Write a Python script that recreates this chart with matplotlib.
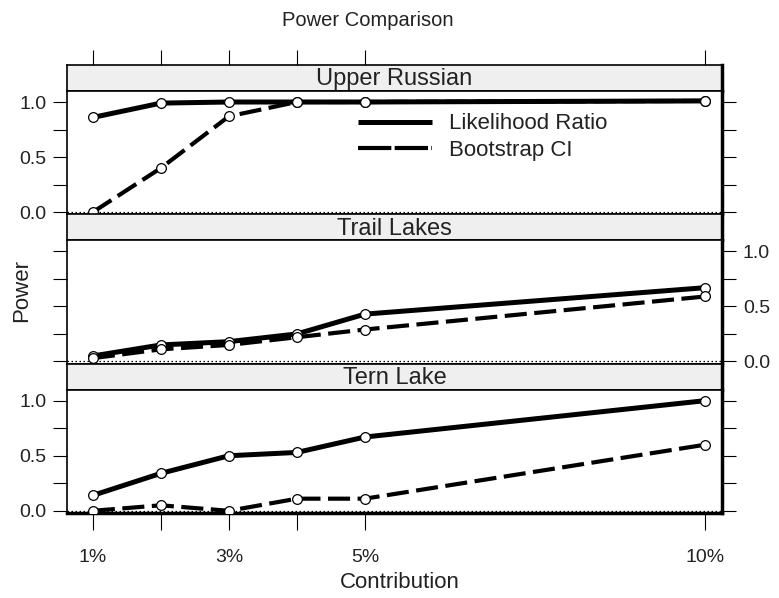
import numpy as np
import matplotlib
matplotlib.use('Agg')
import matplotlib.pyplot as plt
from matplotlib.lines import Line2D

plt.rcParams['font.family'] = ['Liberation Sans', 'DejaVu Sans']

contribution = [1, 2, 3, 4, 5, 10]
xtick_labels = ['1%', '', '3%', '', '5%', '10%']

sites = ['Upper Russian', 'Trail Lakes', 'Tern Lake']
likelihood = {
    'Upper Russian': [0.86, 0.99, 1.0, 1.0, 1.0, 1.01],
    'Trail Lakes': [0.05, 0.15, 0.18, 0.25, 0.43, 0.67],
    'Tern Lake': [0.14, 0.34, 0.50, 0.53, 0.67, 1.0],
}
bootstrap = {
    'Upper Russian': [0.0, 0.40, 0.87, 1.0, 1.0, 1.01],
    'Trail Lakes': [0.03, 0.11, 0.15, 0.22, 0.29, 0.59],
    'Tern Lake': [0.0, 0.05, 0.0, 0.11, 0.11, 0.60],
}

W, H = 779, 598
fig = plt.figure(figsize=(W / 100, H / 100), dpi=100)

left, right = 67, 722
top, bottom = 65, 513
unit = (bottom - top) / 3
strip_h = 26

def box(x0, y0, x1, y1):
    return [x0 / W, 1 - y1 / H, (x1 - x0) / W, (y1 - y0) / H]

xlim = (0.62, 10.25)
ylim = (-0.02, 1.1)
lr_lw, bs_lw = 3.6, 3.0
bs_dash = (0, (5.3, 1.8))

for i, site in enumerate(sites):
    y0 = top + i * unit
    st = fig.add_axes(box(left, y0, right, y0 + strip_h))
    st.set_facecolor('#efefef')
    st.set_xlim(xlim)
    st.set_yticks([])
    st.text(0.5, 0.45, site, transform=st.transAxes, ha='center', va='center',
            fontsize=17, color='#222222')
    for s in st.spines.values():
        s.set_linewidth(1.2)
    st.spines['right'].set_linewidth(2.5)
    if i == 0:
        st.set_xticks(contribution)
        st.tick_params(axis='x', top=True, bottom=False, labeltop=False, labelbottom=False,
                       length=11, width=0.8, direction='out')
    else:
        st.set_xticks([])

    ax = fig.add_axes(box(left, y0 + strip_h, right, y0 + unit))
    ax.set_xlim(xlim)
    ax.set_ylim(ylim)
    ax.axhline(0, color='black', lw=0.9, ls=(0, (1.2, 2)), zorder=1)
    ax.plot(contribution, likelihood[site], color='black', lw=lr_lw, solid_capstyle='butt', zorder=2)
    ax.plot(contribution, bootstrap[site], color='black', lw=bs_lw, ls=bs_dash, zorder=2)
    ax.plot(contribution, likelihood[site], 'o', ms=7, mfc='white', mec='black', mew=0.9, zorder=3)
    ax.plot(contribution, bootstrap[site], 'o', ms=7, mfc='white', mec='black', mew=0.9, zorder=3)

    ax.set_yticks([0, 0.25, 0.5, 0.75, 1.0])
    ax.set_yticklabels(['0.0', '', '0.5', '', '1.0'])
    lab_right = (i == 1)
    ax.tick_params(axis='y', left=True, right=True, labelleft=not lab_right, labelright=lab_right,
                   length=10, width=0.8, direction='out', labelsize=14, pad=5,
                   labelcolor='#222222')
    if i == 2:
        ax.set_xticks(contribution)
        ax.set_xticklabels(xtick_labels)
        ax.tick_params(axis='x', length=12, width=0.8, direction='out', labelsize=14, pad=14,
                       labelcolor='#222222')
    else:
        ax.set_xticks([])
    for s in ax.spines.values():
        s.set_linewidth(1.2)
    ax.spines['right'].set_linewidth(2.5)
    if i == 2:
        ax.spines['bottom'].set_linewidth(2.5)

    if i == 0:
        handles = [Line2D([], [], color='black', lw=lr_lw, solid_capstyle='butt'),
                   Line2D([], [], color='black', lw=bs_lw, ls=(0, (8, 0.8)))]
        leg = ax.legend(handles, ['Likelihood Ratio', 'Bootstrap CI'], loc='upper left',
                        bbox_to_anchor=(0.414, 0.98), frameon=False, fontsize=16,
                        handlelength=3.3, handletextpad=0.8, labelspacing=0.25)
        for t in leg.get_texts():
            t.set_color('#222222')

fig.text(368 / W, 1 - 21 / H, 'Power Comparison', ha='center', va='center',
         fontsize=14.5, color='#222222')
fig.text(22 / W, 1 - 290 / H, 'Power', ha='center', va='center', rotation=90,
         fontsize=16, color='#222222')
fig.text(400 / W, 1 - 582 / H, 'Contribution', ha='center', va='center',
         fontsize=16, color='#222222')

fig.savefig('out.png', dpi=100)
